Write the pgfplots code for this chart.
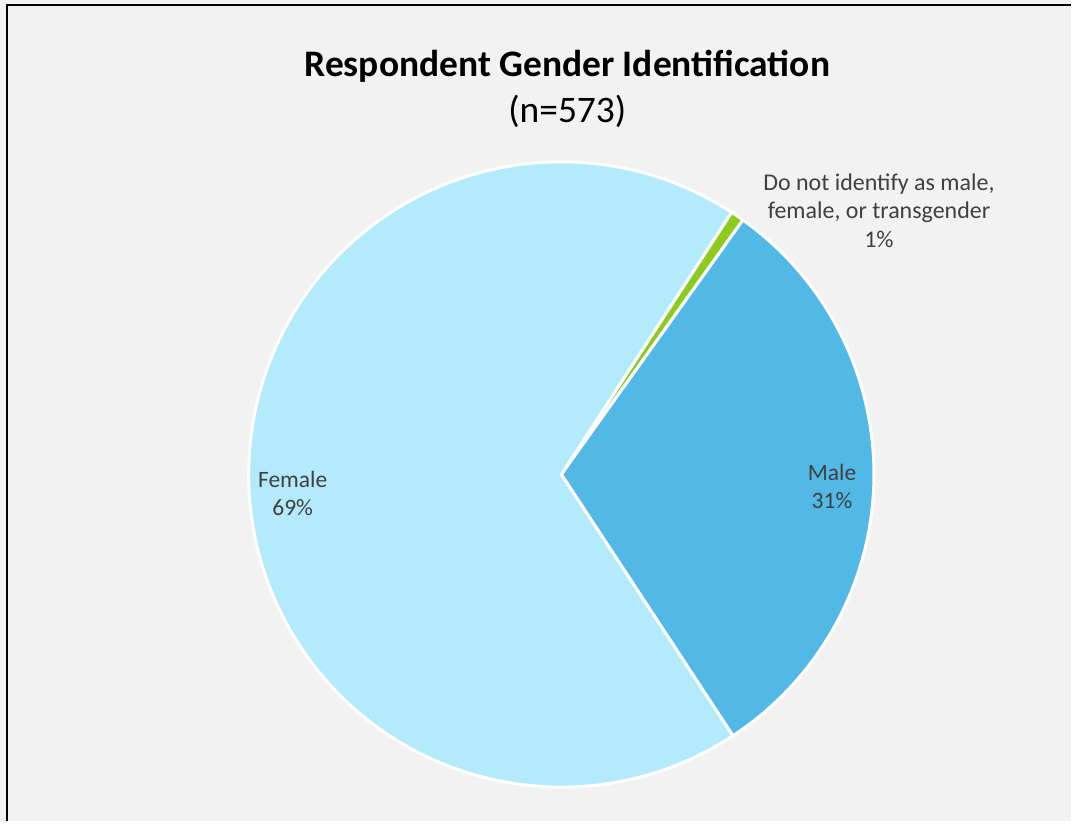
\documentclass[border=0pt]{standalone}
\usepackage{pgfplots}
\pgfplotsset{compat=1.18}
\usepackage{pgfplotstable}
\usepackage{fontspec}
\setmainfont{Carlito}
\definecolor{bgc}{HTML}{F2F2F2}
\definecolor{femc}{HTML}{B3EBFC}
\definecolor{malec}{HTML}{52B9E6}
\definecolor{othc}{HTML}{8DCB1E}
\definecolor{txtc}{HTML}{404040}
\pgfplotstableread{
label count
Other 4
Male 177
Female 392
}\piedata
\begin{document}
\begin{tikzpicture}
\fill[bgc] (0,0) rectangle (1072bp,822bp);
\draw[black,line width=2.5bp] (7bp,0) -- (7bp,817bp) -- (1072bp,817bp);
\begin{axis}[x=1bp,y=1bp,xmin=0,xmax=1072,ymin=0,ymax=822,hide axis,
  scale only axis,anchor=origin,at={(0,0)},clip=false]
\pgfplotstablegetelem{0}{count}\of\piedata \edef\vo{\pgfplotsretval}
\pgfplotstablegetelem{1}{count}\of\piedata \edef\vm{\pgfplotsretval}
\pgfplotstablegetelem{2}{count}\of\piedata \edef\vf{\pgfplotsretval}
\pgfmathsetmacro{\tot}{\vo+\vm+\vf}
\pgfmathsetmacro{\unit}{360/\tot}
\pgfmathsetmacro{\aA}{57}
\pgfmathsetmacro{\aB}{\aA-\unit*\vo}
\pgfmathsetmacro{\aC}{\aB-\unit*\vm}
\pgfmathsetmacro{\aD}{\aC-\unit*\vf}
\fill[othc,draw=white,line width=3bp] (axis cs:562,347) -- ++(\aA:313bp) arc[start angle=\aA,end angle=\aB,radius=313bp] -- cycle;
\fill[malec,draw=white,line width=3bp] (axis cs:562,347) -- ++(\aB:313bp) arc[start angle=\aB,end angle=\aC,radius=313bp] -- cycle;
\fill[femc,draw=white,line width=3bp] (axis cs:562,347) -- ++(\aC:313bp) arc[start angle=\aC,end angle=\aD,radius=313bp] -- cycle;
\node[text=txtc,font=\fontsize{23.5bp}{28bp}\selectfont,align=center] at (axis cs:293,328) {Female\\69\%};
\node[text=txtc,font=\fontsize{23.5bp}{28bp}\selectfont,align=center] at (axis cs:833,335) {Male\\31\%};
\node[text=txtc,font=\fontsize{24bp}{28.5bp}\selectfont,align=center] at (axis cs:880,611) {Do not identify as male,\\female, or transgender\\1\%};
\node[text=black,font=\fontsize{37.5bp}{40bp}\selectfont\bfseries] at (axis cs:568,756) {Respondent Gender Identification};
\node[text=black,font=\fontsize{37.5bp}{40bp}\selectfont] at (axis cs:568,710) {(n=573)};
\end{axis}
\end{tikzpicture}
\end{document}
